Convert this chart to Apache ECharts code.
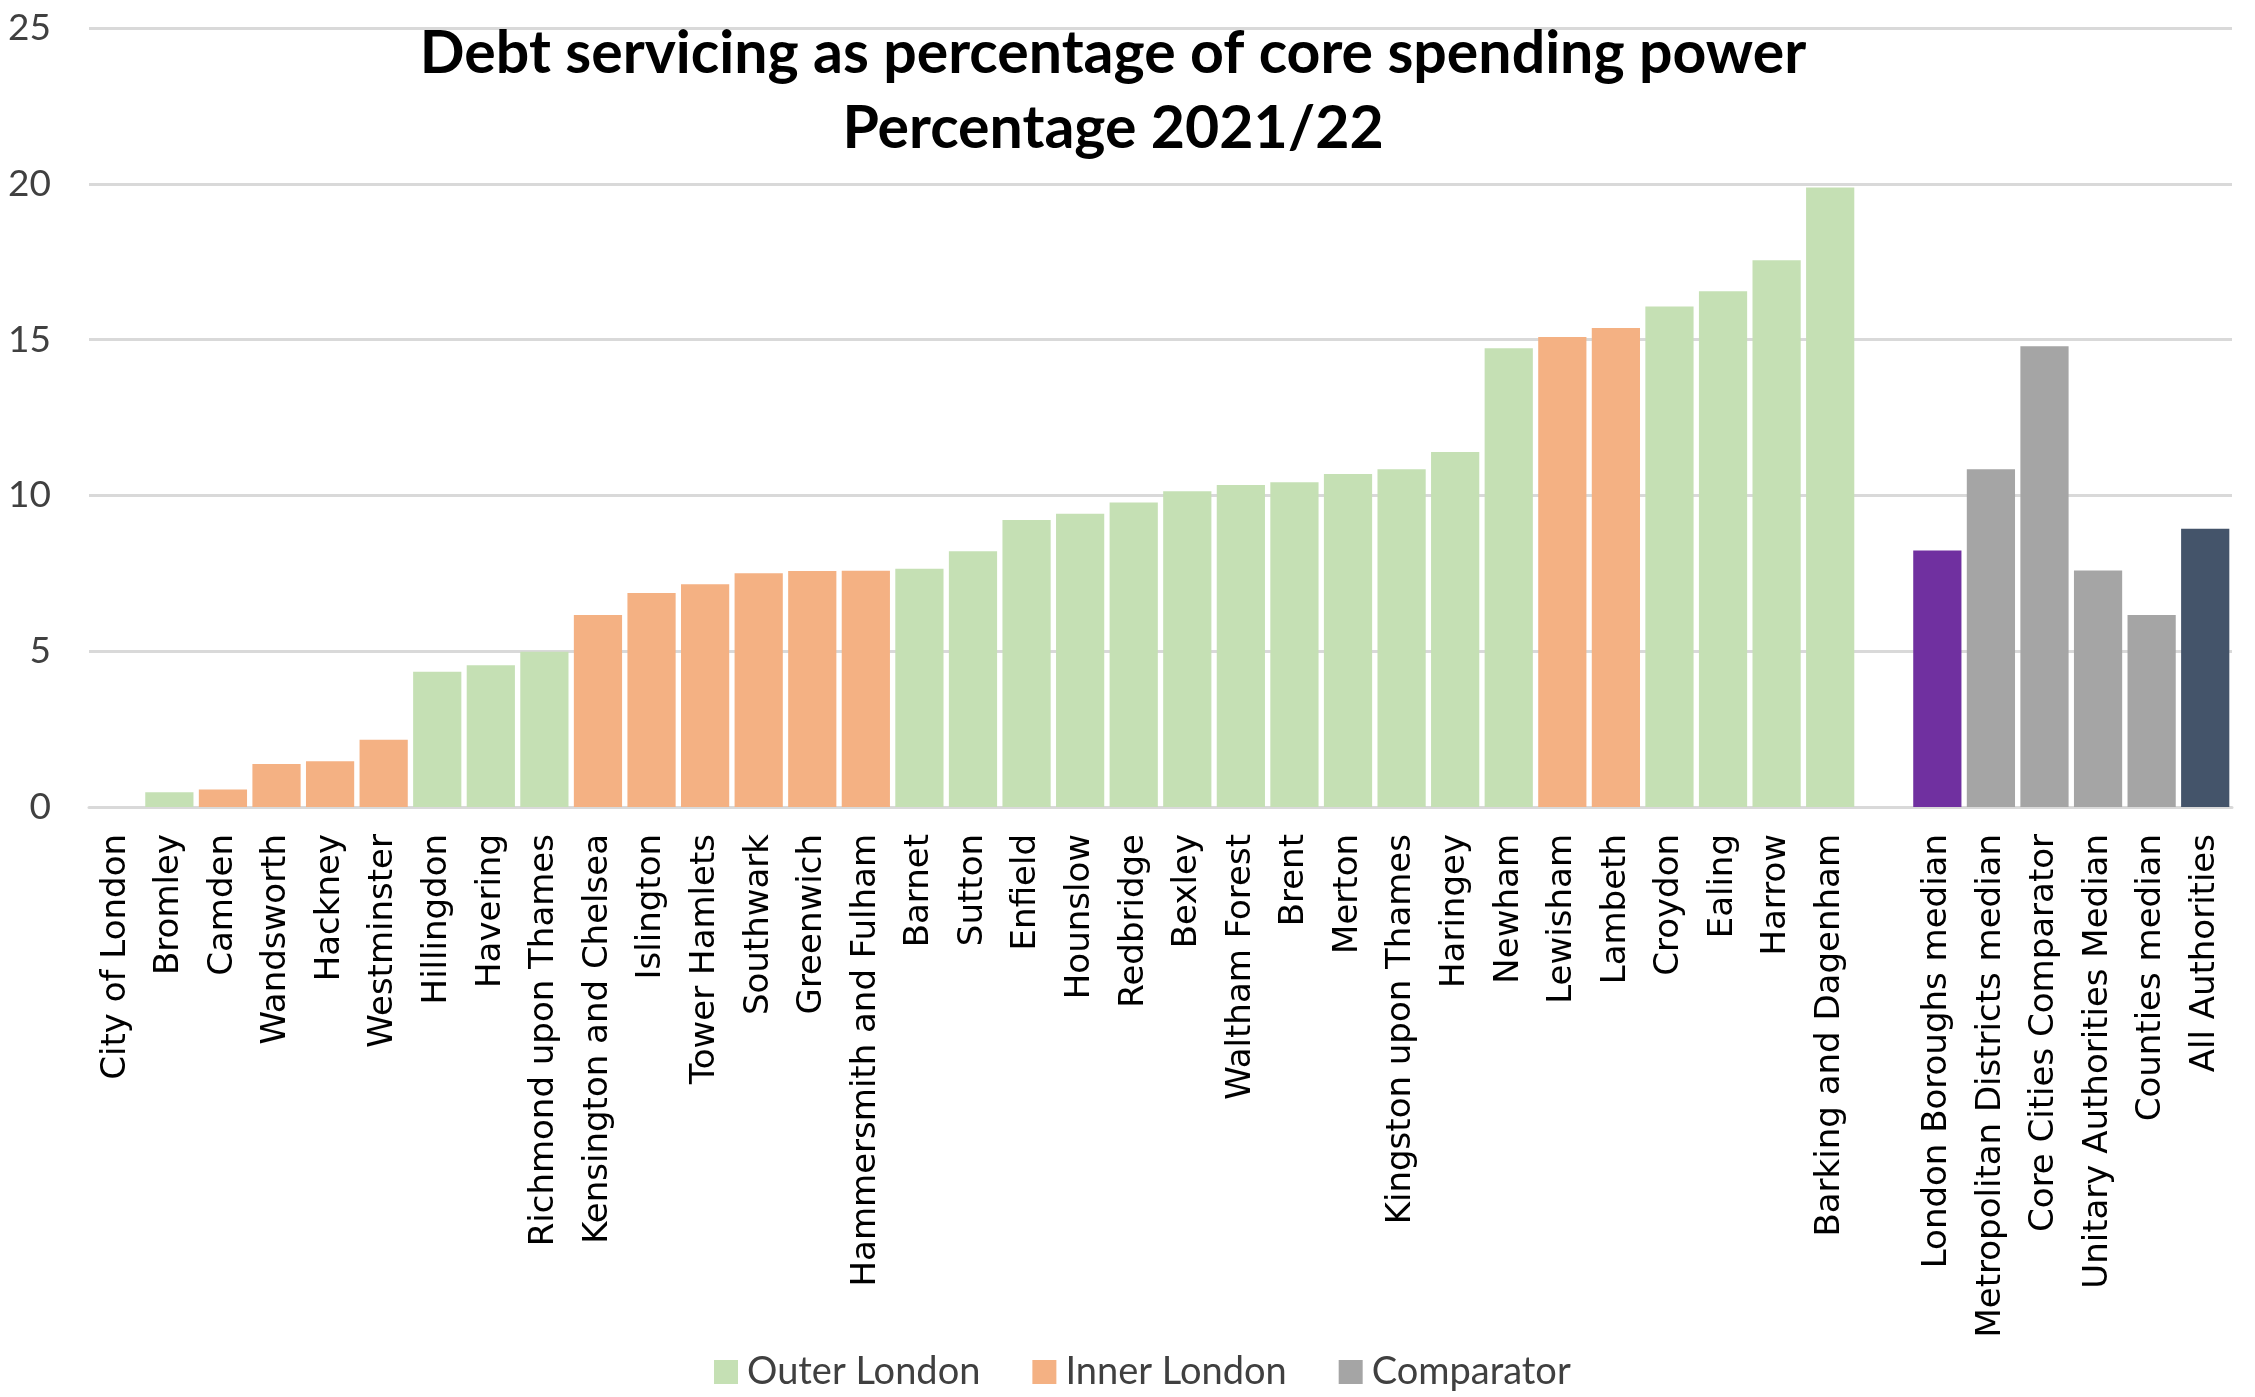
<!DOCTYPE html>
<html>
<head>
<meta charset="utf-8">
<script src="https://cdn.jsdelivr.net/npm/echarts@6/dist/echarts.min.js"></script>
<style>
  html, body { margin: 0; padding: 0; background: #ffffff; }
  #chart { width: 2255px; height: 1397px; }
</style>
</head>
<body>
<div id="chart"></div>
<script>
// Authorities, in the order plotted (a blank slot separates boroughs from comparators)
const categories = [
  'City of London', 'Bromley', 'Camden', 'Wandsworth', 'Hackney', 'Westminster',
  'Hillingdon', 'Havering', 'Richmond upon Thames', 'Kensington and Chelsea',
  'Islington', 'Tower Hamlets', 'Southwark', 'Greenwich', 'Hammersmith and Fulham',
  'Barnet', 'Sutton', 'Enfield', 'Hounslow', 'Redbridge', 'Bexley', 'Waltham Forest',
  'Brent', 'Merton', 'Kingston upon Thames', 'Haringey', 'Newham', 'Lewisham',
  'Lambeth', 'Croydon', 'Ealing', 'Harrow', 'Barking and Dagenham',
  '',
  'London Boroughs median', 'Metropolitan Districts median', 'Core Cities Comparator',
  'Unitary Authorities Median', 'Counties median', 'All Authorities'
];

// Debt servicing as % of core spending power, 2021/22
const values = [
  0, 0.47, 0.56, 1.38, 1.47, 2.16,
  4.34, 4.55, 4.98, 6.16,
  6.87, 7.15, 7.50, 7.57, 7.58,
  7.65, 8.21, 9.21, 9.41, 9.77, 10.13, 10.33,
  10.42, 10.69, 10.84, 11.39, 14.72, 15.08,
  15.37, 16.06, 16.55, 17.55, 19.88,
  null,
  8.23, 10.84, 14.79,
  7.59, 6.16, 8.93
];

// Group of each authority: O = Outer London, I = Inner London, C = Comparator
const groups = [
  'I', 'O', 'I', 'I', 'I', 'I',
  'O', 'O', 'O', 'I',
  'I', 'I', 'I', 'I', 'I',
  'O', 'O', 'O', 'O', 'O', 'O', 'O',
  'O', 'O', 'O', 'O', 'O', 'I',
  'I', 'O', 'O', 'O', 'O',
  '',
  'C', 'C', 'C', 'C', 'C', 'C'
];

const yTicks = [0, 5, 10, 15, 20, 25];

const groupNames = { O: 'Outer London', I: 'Inner London', C: 'Comparator' };
const groupColors = { O: '#C5E0B4', I: '#F4B183', C: '#A5A5A5' };
// Highlighted comparator bars
const specialColors = {
  'London Boroughs median': '#7030A0',
  'All Authorities': '#44546A'
};

const series = ['O', 'I', 'C'].map(function (g) {
  return {
    name: groupNames[g],
    type: 'bar',
    stack: 'all',
    barCategoryGap: '10%',
    itemStyle: { color: groupColors[g] },
    data: values.map(function (v, i) {
      if (groups[i] !== g || v === null) return '-';
      const c = specialColors[categories[i]];
      return c ? { value: v, itemStyle: { color: c } } : v;
    })
  };
});

const chart = echarts.init(document.getElementById('chart'), null, { renderer: 'canvas' });
chart.setOption({
  animation: false,
  backgroundColor: '#ffffff',
  title: {
    text: 'Debt servicing as percentage of core spending power\nPercentage 2021/22',
    left: 1108,
    top: 11,
    textAlign: 'center',
    textStyle: {
      fontFamily: 'Lato',
      fontWeight: 'bold',
      fontSize: 59,
      lineHeight: 75,
      color: '#000000'
    }
  },
  legend: {
    data: ['Outer London', 'Inner London', 'Comparator'],
    left: 709,
    top: 1348,
    icon: 'rect',
    itemWidth: 24,
    itemHeight: 24,
    itemGap: 52,
    textStyle: {
      fontFamily: 'Lato',
      fontSize: 38,
      color: '#404040',
      padding: [0, 0, 0, 4]
    }
  },
  grid: {
    left: 89,
    right: 23,
    top: 28,
    bottom: 590,
    containLabel: false,
    outerBoundsMode: 'none'
  },
  xAxis: {
    type: 'category',
    data: categories,
    axisTick: { show: false },
    axisLine: { show: true, lineStyle: { color: '#D9D9D9', width: 3 } },
    axisLabel: {
      interval: 0,
      rotate: 90,
      margin: 27,
      fontFamily: 'DejaVu Sans',
      fontSize: 34,
      color: '#000000'
    }
  },
  yAxis: {
    type: 'value',
    min: yTicks[0],
    max: yTicks[yTicks.length - 1],
    interval: yTicks[1] - yTicks[0],
    axisLine: { show: false },
    axisTick: { show: false },
    splitLine: { lineStyle: { color: '#D9D9D9', width: 3 } },
    axisLabel: {
      margin: 38,
      fontFamily: 'Lato',
      fontSize: 37,
      color: '#404040'
    }
  },
  series: series
});
</script>
</body>
</html>
